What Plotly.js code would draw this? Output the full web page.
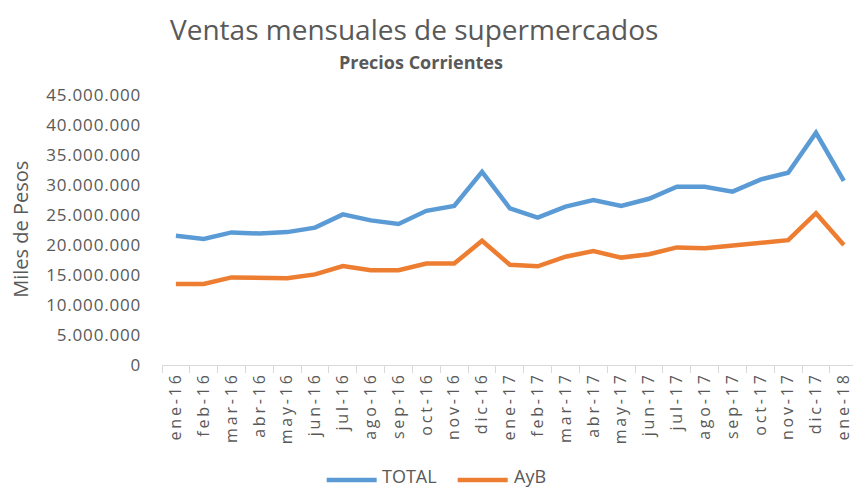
<!DOCTYPE html>
<html>
<head>
<meta charset="utf-8">
<script src="https://cdn.plot.ly/plotly-3.0.1.min.js"></script>
<style>
  html, body { margin: 0; padding: 0; background: #fff; }
  #chart { width: 853px; height: 492px; }
  .xtick text { letter-spacing: 2.8px; }
  .ytick text { letter-spacing: 0.8px; }
</style>
</head>
<body>
<div id="chart"></div>
<script>
const months = ["ene-16","feb-16","mar-16","abr-16","may-16","jun-16","jul-16","ago-16","sep-16","oct-16","nov-16","dic-16",
                "ene-17","feb-17","mar-17","abr-17","may-17","jun-17","jul-17","ago-17","sep-17","oct-17","nov-17","dic-17",
                "ene-18"];
const total = [21550000,21000000,22100000,21900000,22150000,22900000,25100000,24100000,23500000,25700000,26500000,32200000,
               26100000,24550000,26400000,27500000,26500000,27700000,29700000,29700000,28900000,30900000,32050000,38700000,
               30700000];
const ayb   = [13500000,13500000,14600000,14450000,14450000,15100000,16500000,15800000,15800000,16900000,16900000,20700000,
               16700000,16450000,18050000,19000000,17900000,18450000,19600000,19450000,19900000,20400000,20800000,25300000,
               20000000];
const yTickVals = [0,5000000,10000000,15000000,20000000,25000000,30000000,35000000,40000000,45000000];
const yTickText = ["0","5.000.000","10.000.000","15.000.000","20.000.000","25.000.000","30.000.000","35.000.000","40.000.000","45.000.000"];
const seriesNames = ["TOTAL","AyB"];
const colors = ["#5B9BD5","#ED7D31"];
const txtColor = "#595959";
const font = "Open Sans, Noto Sans, sans-serif";

const traces = [
  {x: months, y: total, name: seriesNames[0], type: "scatter", mode: "lines",
   line: {color: colors[0], width: 4.5}, hoverinfo: "skip"},
  {x: months, y: ayb, name: seriesNames[1], type: "scatter", mode: "lines",
   line: {color: colors[1], width: 4.5}, hoverinfo: "skip"}
];

const layout = {
  width: 853, height: 492,
  margin: {l: 162, r: 0, t: 95, b: 127, pad: 0},
  paper_bgcolor: "#fff", plot_bgcolor: "#fff",
  showlegend: false,
  font: {family: font, color: txtColor},
  xaxis: {
    type: "category", range: [-0.5, 24.33],
    showgrid: false, zeroline: false,
    showline: true, linecolor: "#d9d9d9", linewidth: 1,
    ticks: "outside", tickson: "boundaries", ticklen: 7, tickcolor: "#d9d9d9", tickwidth: 1,
    tickangle: -90, tickfont: {size: 16, color: txtColor, family: font}
  },
  yaxis: {
    range: [0, 45000000], fixedrange: true,
    showgrid: false, zeroline: false, showline: false, ticks: "",
    tickvals: yTickVals, ticktext: yTickText,
    ticklabelstandoff: 20,
    tickfont: {size: 17, color: txtColor, family: font}
  },
  annotations: [
    {text: "Ventas mensuales de supermercados", xref: "paper", yref: "paper", x: 0.3644, y: 1.2444,
     xanchor: "center", yanchor: "middle", showarrow: false, font: {size: 28, color: txtColor, family: font}},
    {text: "<b>Precios Corrientes</b>", xref: "paper", yref: "paper", x: 0.3748, y: 1.1220,
     xanchor: "center", yanchor: "middle", showarrow: false, font: {size: 18, color: txtColor, family: font}},
    {text: "Miles de Pesos", xref: "paper", yref: "paper", x: -0.2059, y: 0.5037, textangle: -90,
     xanchor: "center", yanchor: "middle", showarrow: false, font: {size: 20, color: txtColor, family: font}},
    {text: seriesNames[0], xref: "paper", yref: "paper", x: 0.3151, y: -0.4630,
     xanchor: "left", yanchor: "bottom", showarrow: false, font: {size: 18, color: txtColor, family: font}},
    {text: seriesNames[1], xref: "paper", yref: "paper", x: 0.5061, y: -0.4630,
     xanchor: "left", yanchor: "bottom", showarrow: false, font: {size: 18, color: txtColor, family: font}}
  ],
  shapes: [
    {type: "line", xref: "paper", yref: "paper", x0: 0.2383, x1: 0.3107, y0: -0.4259, y1: -0.4259,
     line: {color: colors[0], width: 4.5}},
    {type: "line", xref: "paper", yref: "paper", x0: 0.4279, x1: 0.5003, y0: -0.4259, y1: -0.4259,
     line: {color: colors[1], width: 4.5}}
  ]
};

Plotly.newPlot("chart", traces, layout, {staticPlot: true, displayModeBar: false});
</script>
</body>
</html>
